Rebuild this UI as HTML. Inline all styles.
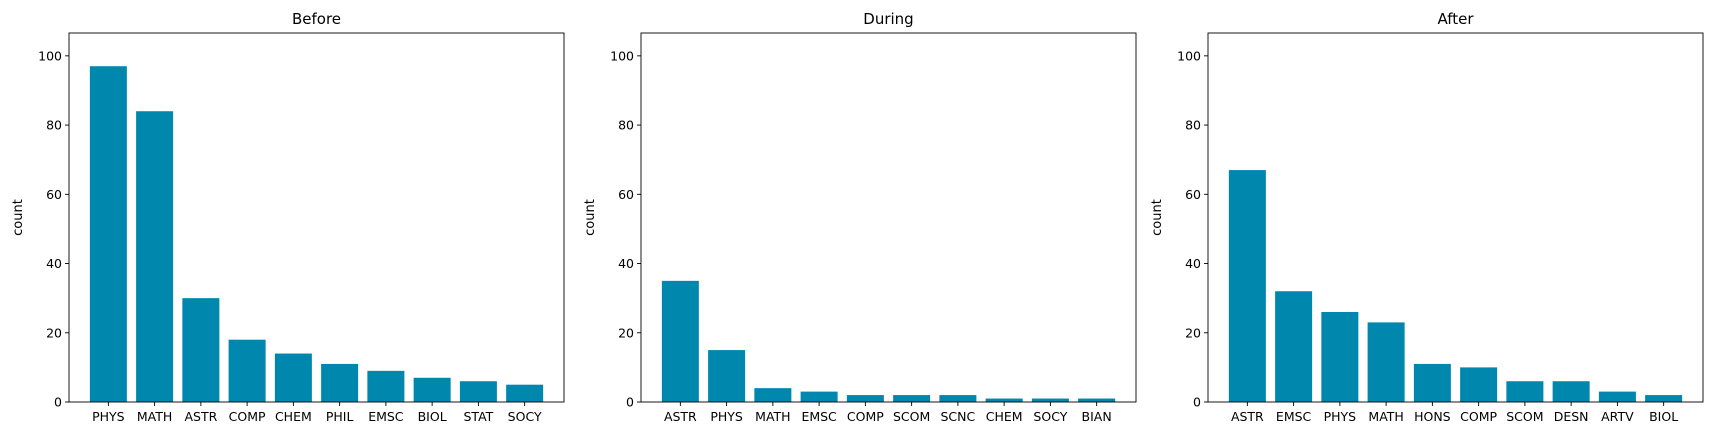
<!DOCTYPE html>
<html><head><meta charset="utf-8"><style>
body{margin:0;background:#fff;font-family:"Liberation Sans","DejaVu Sans",sans-serif;}
svg text{font-family:"DejaVu Sans","Liberation Sans",sans-serif;}
</style></head><body>
<svg id="chart" width="1713" height="435" xmlns="http://www.w3.org/2000/svg"></svg>
<script>
const titles = ["Before","During","After"];
const beforeCats = ["PHYS","MATH","ASTR","COMP","CHEM","PHIL","EMSC","BIOL","STAT","SOCY"];
const beforeVals = [97,84,30,18,14,11,9,7,6,5];
const duringCats = ["ASTR","PHYS","MATH","EMSC","COMP","SCOM","SCNC","CHEM","SOCY","BIAN"];
const duringVals = [35,15,4,3,2,2,2,1,1,1];
const afterCats = ["ASTR","EMSC","PHYS","MATH","HONS","COMP","SCOM","DESN","ARTV","BIOL"];
const afterVals = [67,32,26,23,11,10,6,6,3,2];
const yTicks = [0,20,40,60,80,100];

const NS="http://www.w3.org/2000/svg";
const svgEl=document.getElementById('chart');
function mk(tag,attrs,parent){const e=document.createElementNS(NS,tag);for(const k in attrs)e.setAttribute(k,attrs[k]);(parent||svgEl).appendChild(e);return e;}
const panels=[{l:69,cats:beforeCats,vals:beforeVals,name:'before'},{l:641,cats:duringCats,vals:duringVals,name:'during'},{l:1208,cats:afterCats,vals:afterVals,name:'after'}];
const W=495, axTop=33, axBot=402, yMax=106.6;
panels.forEach((p,pi)=>{
  const g=mk('g',{});
  
  
  const n=p.cats.length;
  const x0=-0.4-0.046*(n-0.2), x1=n-1+0.4+0.046*(n-0.2);
  const xs=v=>p.l+(v-x0)/(x1-x0)*W;
  const ys=v=>axBot-v/yMax*(axBot-axTop);
  p.vals.forEach((v,i)=>{
    const r=mk('rect',{x:xs(i-0.4),y:ys(v),width:xs(i+0.4)-xs(i-0.4),height:ys(0)-ys(v),fill:'#0087ae'},g);
    
    
    mk('line',{x1:xs(i),x2:xs(i),y1:axBot,y2:axBot+4,stroke:'#000','stroke-width':0.9},g);
    const t=mk('text',{x:xs(i),y:axBot+19,'font-size':12.5,'text-anchor':'middle',fill:'#000'},g);
    t.textContent=p.cats[i];
    
    
  });
  yTicks.forEach(v=>{
    mk('line',{x1:p.l-4,x2:p.l,y1:ys(v),y2:ys(v),stroke:'#000','stroke-width':0.9},g);
    const t=mk('text',{x:p.l-7,y:ys(v)+4.5,'font-size':12.5,'text-anchor':'end',fill:'#000'},g);
    t.textContent=v;
    
    
  });
  const f=mk('rect',{x:p.l,y:axTop,width:W,height:axBot-axTop,fill:'none',stroke:'#000','stroke-width':0.9},g);
  
  
  const tt=mk('text',{x:p.l+W/2,y:24,'font-size':15,'text-anchor':'middle',fill:'#000'},g);
  tt.textContent=titles[pi];
  
  
  const yl=mk('text',{x:0,y:0,'font-size':13,'text-anchor':'middle',fill:'#000',transform:`translate(${p.l-47},${(axTop+axBot)/2}) rotate(-90)`},g);
  yl.textContent='count';
  
  
});
</script>
</body></html>
